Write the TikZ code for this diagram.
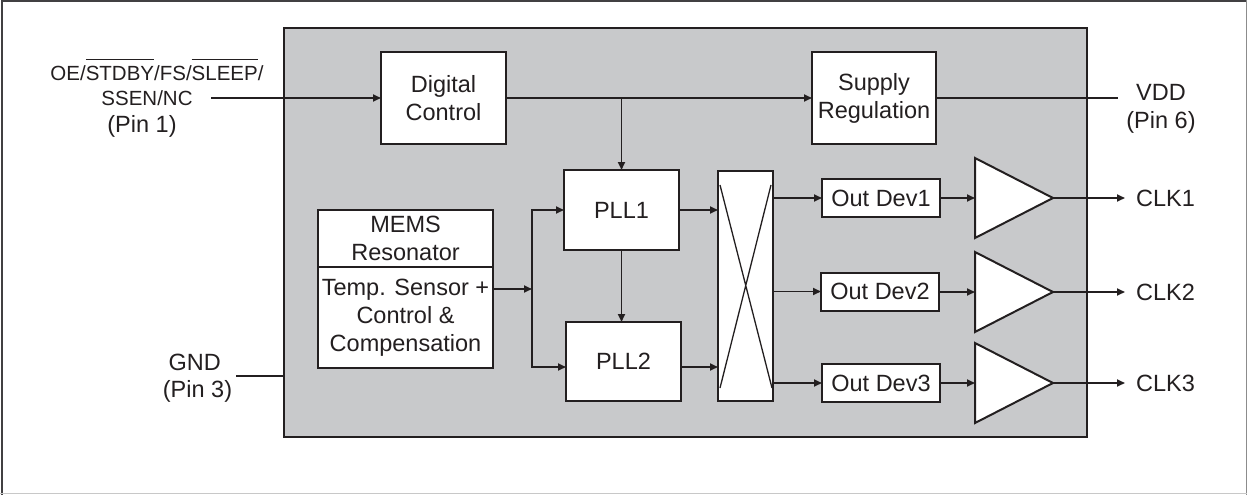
\documentclass[tikz,border=0pt]{standalone}
\usepackage{fontspec}
\setmainfont{Liberation Sans}
\usetikzlibrary{arrows.meta,calc}
\definecolor{ink}{RGB}{35,31,32}
\definecolor{chipgray}{RGB}{200,201,203}
\definecolor{framedark}{RGB}{65,64,66}
\definecolor{framemid}{RGB}{140,140,140}
\definecolor{framelight}{RGB}{200,200,200}
\newcommand{\barred}[1]{\setbox0=\hbox{#1}\rlap{\rule[\dimexpr\ht0+6pt\relax]{\wd0}{1.3pt}}\box0}
\begin{document}
\begin{tikzpicture}[x=1pt,y=-1pt,
  every node/.style={text=ink,font=\fontsize{23.5}{28}\selectfont},
  blk/.style={draw=ink,line width=2pt,fill=white,inner sep=0pt,outer sep=0pt,align=center},
  conn/.style={draw=ink,line width=1.9pt},
  arr/.style={conn,-{Triangle[length=8pt,width=7pt]}},
  lbl/.style={inner sep=0pt,anchor=base},
  small/.style={font=\fontsize{20.5}{24}\selectfont}]
\useasboundingbox (0,0) rectangle (1247,495);
% outer frame
\draw[framedark,line width=2pt] (2.3,495) -- (2.3,0.9) -- (1247,0.9);
\draw[framemid,line width=1pt] (1246,0) -- (1246,495);
\draw[framelight,line width=1.5pt] (0,493.5) -- (1247,493.5);
% chip
\node[draw=ink,line width=2.7pt,fill=chipgray,minimum width=803pt,minimum height=409pt,inner sep=0pt,outer sep=0pt] (chip) at (685.5,232.5) {};
% blocks
\node[blk,minimum width=125pt,minimum height=91pt] (dc) at (443.5,98) {Digital\\Control};
\node[blk,minimum width=124pt,minimum height=91pt] (sr) at (874,98) {Supply\\Regulation};
\node[blk,minimum width=115pt,minimum height=80pt] (pll1) at (621.5,210) {PLL1};
\node[blk,minimum width=115pt,minimum height=79pt] (pll2) at (623.5,361.5) {PLL2};
\node[blk,minimum width=175pt,minimum height=57pt] (mems) at (405.5,238.5) {MEMS\\Resonator};
\node[blk,minimum width=175pt,minimum height=101pt] (tsc) at (405.5,317.5) {Temp. Sensor +\\Control \&\\Compensation};
\node[blk,minimum width=55pt,minimum height=230pt] (xb) at (745.5,286) {};
\draw[ink,line width=1.3pt] (720,185) -- (772,388) (771,185) -- (720,388);
\node[blk,minimum width=118pt,minimum height=38pt] (od1) at (881,198) {Out Dev1};
\node[blk,minimum width=118pt,minimum height=38pt] (od2) at (880,291.5) {Out Dev2};
\node[blk,minimum width=118pt,minimum height=38pt] (od3) at (881,383) {Out Dev3};
% buffers
\foreach \n/\y in {1/198,2/292,3/383}{
  \coordinate (ti\n) at (975,\y);
  \coordinate (to\n) at (1053,\y);
  \coordinate (ce\n) at (1125,\y);
  \draw[ink,line width=2pt,fill=white,line join=miter] (975,\y-40) -- (to\n) -- (975,\y+40) -- cycle;
}
% labels
\node[lbl,small] (oe) at (157,80.3) {OE/\barred{STDBY}/FS/\barred{SLEEP}/};
\node[lbl,small] (ssen) at (147,105.3) {SSEN/NC};
\node[lbl] (pin1) at (142,132) {(Pin 1)};
\node[lbl] (vdd) at (1161,100.4) {VDD};
\node[lbl] (vddpin) at (1161,128) {(Pin 6)};
\node[lbl] (gnd) at (194.7,370.4) {GND};
\node[lbl] (gndpin) at (197.5,397) {(Pin 3)};
\node[lbl,anchor=base west] (clk1) at (1136,206.4) {CLK1};
\node[lbl,anchor=base west] (clk2) at (1136,300.4) {CLK2};
\node[lbl,anchor=base west] (clk3) at (1136,391.4) {CLK3};
% connectors
\coordinate (in1) at (211,98);
\draw[arr] (in1) -- (dc.west);
\draw[arr] (dc.east) -- (sr.west);
\draw[arr] (dc.east -| pll1.north) -- (pll1.north);
\coordinate (vddend) at (1118,98);
\draw[conn] (sr.east) -- (vddend);
\coordinate (gndend) at (236,376);
\draw[conn] (gndend) -- (gndend -| chip.west);
\coordinate (jt) at (532,289);
\coordinate (j1) at (532,210);
\coordinate (j2) at (532,367);
\draw[arr] (tsc.east |- jt) -- (jt);
\draw[arr] (j2) -- (j1) -- (pll1.west |- j1);
\draw[arr] (j1) -- (j2) -- (pll2.west |- j2);
\draw[arr] (pll1.south) -- (pll1.south |- pll2.north);
\draw[arr] (pll1.east) -- (pll1.east -| xb.west);
\draw[arr] (pll2.east |- j2) -- (j2 -| xb.west);
\draw[arr] (xb.east |- od1) -- (od1.west);
\draw[arr] (xb.east |- od2) -- (od2.west);
\draw[arr] (xb.east |- od3) -- (od3.west);
\draw[arr] (od1.east) -- (ti1);
\draw[arr] (od2.east |- ti2) -- (ti2);
\draw[arr] (od3.east) -- (ti3);
\draw[arr] (to1) -- (ce1);
\draw[arr] (to2) -- (ce2);
\draw[arr] (to3) -- (ce3);
\end{tikzpicture}
\end{document}
